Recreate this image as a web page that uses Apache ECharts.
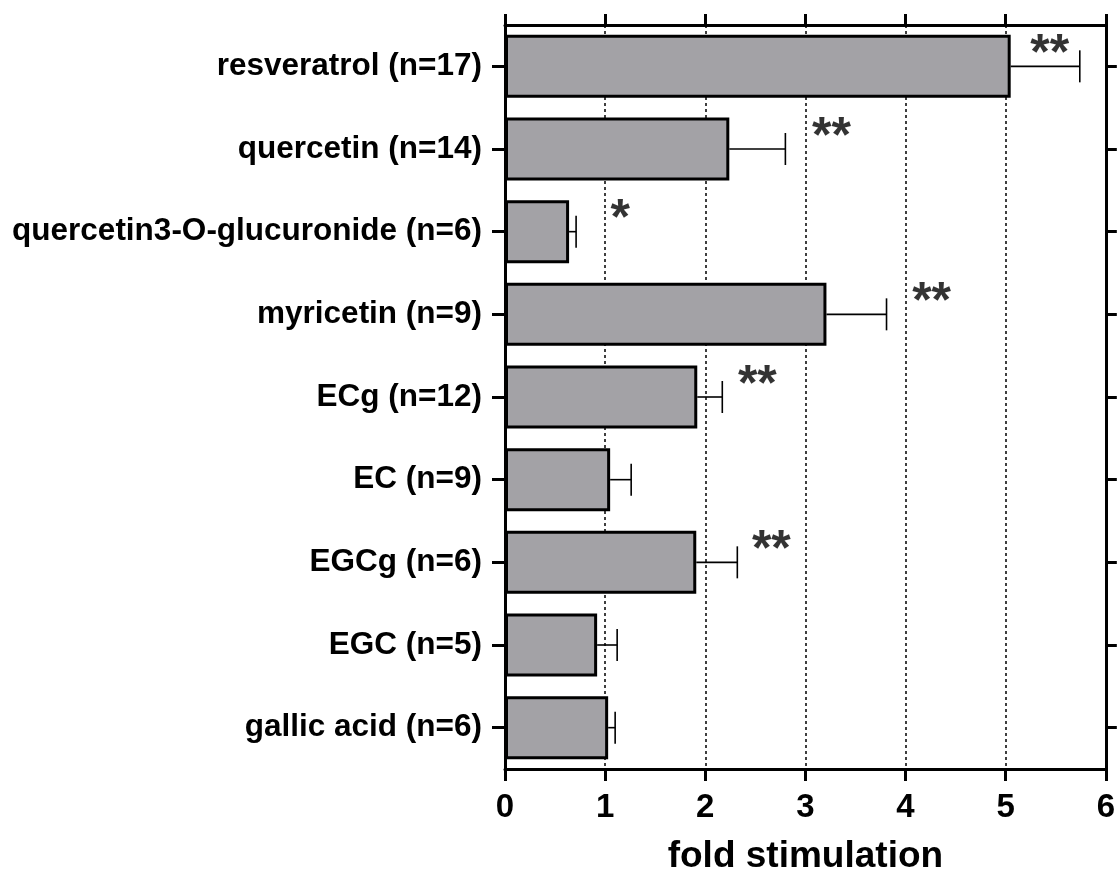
<!DOCTYPE html>
<html>
<head>
<meta charset="utf-8">
<script src="https://cdn.jsdelivr.net/npm/echarts@6/dist/echarts.min.js"></script>
<style>
html,body{margin:0;padding:0;background:#fff;}
#chart{width:1118px;height:880px;}
</style>
</head>
<body>
<div id="chart"></div>
<script>
const categories = ['resveratrol (n=17)','quercetin (n=14)','quercetin3-O-glucuronide (n=6)','myricetin (n=9)','ECg (n=12)','EC (n=9)','EGCg (n=6)','EGC (n=5)','gallic acid (n=6)'];
const means = [5.05, 2.24, 0.64, 3.21, 1.92, 1.05, 1.91, 0.92, 1.03];
const sems = [0.69, 0.56, 0.07, 0.60, 0.25, 0.21, 0.41, 0.20, 0.07];
const starText = ['**', '**', '*', '**', '**', '', '**', '', ''];
const starX = [5.44, 3.26, 1.15, 4.26, 2.52, 0, 2.66, 0, 0];
const xTicks = [0, 1, 2, 3, 4, 5, 6];

const FONT = '"Liberation Sans", Arial, Helvetica, sans-serif';
const chart = echarts.init(document.getElementById('chart'), null, {renderer: 'canvas'});

const errData = means.map((m, i) => [m, i, m + sems[i]]);
const starData = [];
starText.forEach((t, i) => { if (t) starData.push({value: [starX[i], i], label: {formatter: t}}); });

const option = {
  animation: false,
  backgroundColor: '#fff',
  grid: {left: 505, right: 11, top: 25, bottom: 99, containLabel: false},
  xAxis: [
    {
      type: 'value', position: 'bottom', min: xTicks[0], max: xTicks[xTicks.length - 1], interval: 1,
      axisLine: {show: true, onZero: false, lineStyle: {color: '#000', width: 3}},
      axisTick: {show: true, inside: false, length: 12, lineStyle: {color: '#000', width: 3}},
      axisLabel: {show: true, margin: 22, color: '#000', fontFamily: FONT, fontWeight: 'bold', fontSize: 33},
      splitLine: {show: true, lineStyle: {color: '#000', width: 1.5, type: [3, 3]}},
      name: 'fold stimulation', nameLocation: 'middle', nameGap: 69,
      nameTextStyle: {color: '#000', fontFamily: FONT, fontWeight: 'bold', fontSize: 37}
    },
    {
      type: 'value', position: 'top', min: xTicks[0], max: xTicks[xTicks.length - 1], interval: 1,
      axisLine: {show: true, onZero: false, lineStyle: {color: '#000', width: 3}},
      axisTick: {show: true, inside: false, length: 11, lineStyle: {color: '#000', width: 3}},
      axisLabel: {show: false},
      splitLine: {show: false}
    }
  ],
  yAxis: [
    {
      type: 'category', position: 'left', inverse: true, data: categories,
      axisLine: {show: true, onZero: false, lineStyle: {color: '#000', width: 3}},
      axisTick: {show: true, alignWithLabel: true, length: 13, lineStyle: {color: '#000', width: 3}},
      axisLabel: {show: true, margin: 23, color: '#000', fontFamily: FONT, fontWeight: 'bold', fontSize: 31.5},
      splitLine: {show: false}
    },
    {
      type: 'category', position: 'right', inverse: true, data: categories,
      axisLine: {show: true, onZero: false, lineStyle: {color: '#000', width: 3}},
      axisTick: {show: true, alignWithLabel: true, length: 11, lineStyle: {color: '#000', width: 3}},
      axisLabel: {show: false},
      splitLine: {show: false}
    }
  ],
  series: [
    {
      type: 'bar', xAxisIndex: 0, yAxisIndex: 0, data: means, barWidth: 63,
      itemStyle: {color: '#a3a2a6', borderColor: '#000', borderWidth: 3},
      z: 3
    },
    {
      type: 'custom', xAxisIndex: 0, yAxisIndex: 0, data: errData,
      encode: {x: [0, 2], y: 1},
      z: 4,
      renderItem: function (params, api) {
        const yi = api.value(1);
        const s = api.coord([api.value(0), yi]);
        const e = api.coord([api.value(2), yi]);
        const half = 16;
        const st = {stroke: '#000', lineWidth: 1.6};
        return {
          type: 'group',
          children: [
            {type: 'line', shape: {x1: s[0], y1: s[1], x2: e[0], y2: e[1]}, style: st},
            {type: 'line', shape: {x1: e[0], y1: e[1] - half, x2: e[0], y2: e[1] + half}, style: st}
          ]
        };
      }
    },
    {
      type: 'scatter', xAxisIndex: 0, yAxisIndex: 0, data: starData,
      symbolSize: 0, z: 5, silent: true,
      label: {show: true, position: 'inside', offset: [0, -11], color: '#000',
        fontFamily: FONT, fontWeight: 'bold', fontSize: 50}
    }
  ]
};
chart.setOption(option);
</script>
</body>
</html>
